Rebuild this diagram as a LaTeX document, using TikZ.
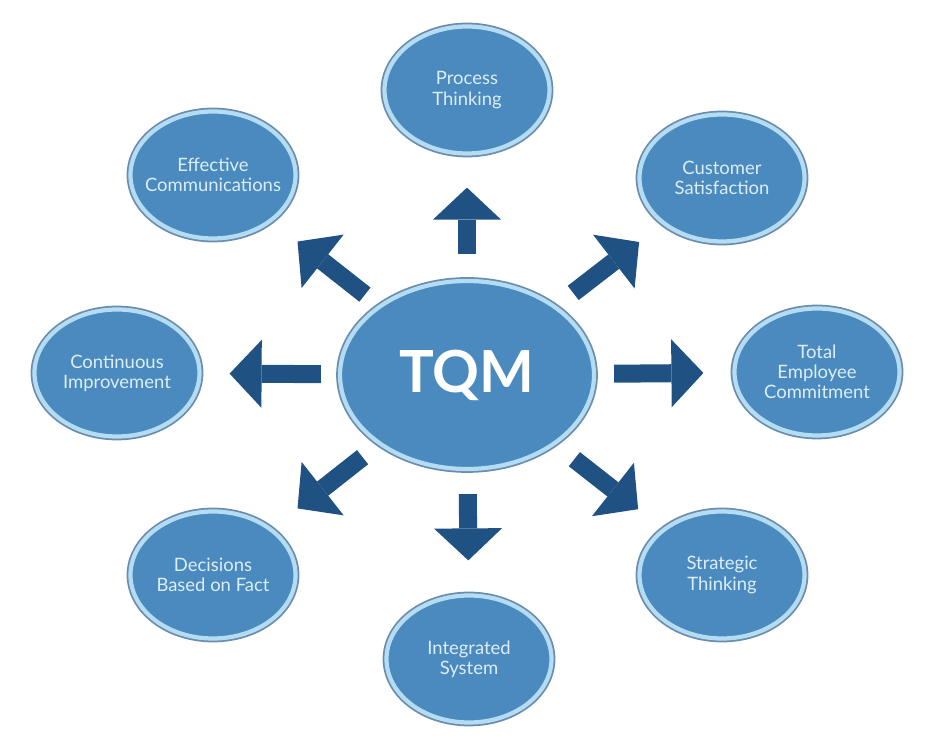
\documentclass[tikz,border=0pt]{standalone}
\usepackage{fontspec}
\setsansfont{Lato}
\usetikzlibrary{arrows.meta,shapes.geometric}
\definecolor{bubblefill}{HTML}{4A8ABE}
\definecolor{bubblering}{HTML}{B4DCF2}
\definecolor{bubbleedge}{HTML}{6A8CAE}
\definecolor{bubbletext}{HTML}{DCEEF9}
\definecolor{pushblue}{HTML}{1F5282}
\begin{document}
\begin{tikzpicture}[
  bubble/.style={ellipse,fill=bubblefill,draw=bubblering,line width=2.4pt,
    preaction={draw=bubbleedge,line width=4.4pt},
    minimum width=3.3cm,minimum height=2.54cm,inner xsep=-5mm,inner ysep=0pt,
    align=center,text=bubbletext,font=\sffamily\fontsize{10.5}{11.5}\selectfont},
  push/.style={draw=pushblue,line width=3.6mm,
    -{Triangle[length=6.4mm,width=13.6mm,line width=0pt]}}
]
\useasboundingbox (0,0) rectangle (18.7,15.02);
\node[bubble,minimum width=5.08cm,minimum height=3.76cm,text=white,
  font=\sffamily\bfseries\fontsize{33}{35}\selectfont] (tqm) at (9.34,7.52) {TQM};
\node[bubble] (proc) at (9.34,13.22) {Process\\Thinking};
\node[bubble] (cust) at (14.44,11.46) {Customer\\Satisfaction};
\node[bubble] (staff) at (16.34,7.58) {Total\\Employee\\Commitment};
\node[bubble] (strat) at (14.44,3.52) {Strategic\\Thinking};
\node[bubble] (integ) at (9.38,1.84) {Integrated\\System};
\node[bubble] (facts) at (4.26,3.52) {Decisions\\Based on Fact};
\node[bubble] (improve) at (2.34,7.56) {Continuous\\Improvement};
\node[bubble] (comms) at (4.26,11.52) {Effective\\Communications};
\foreach \dest/\a/\b in {proc/5mm/6.4mm,cust/4.2mm/5.8mm,staff/3.6mm/5.8mm,
  strat/4.7mm/6.2mm,integ/4.6mm/6.6mm,facts/4mm/6.4mm,improve/3.4mm/5.6mm,
  comms/3.4mm/6.4mm}{
  \draw[push,shorten <=\a,shorten >=\b] (tqm) -- (\dest);
}
\end{tikzpicture}
\end{document}
